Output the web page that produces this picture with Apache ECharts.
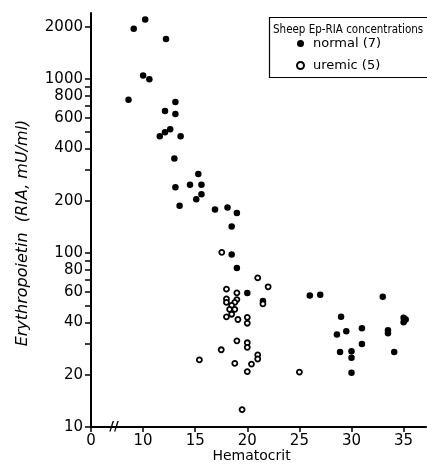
<!DOCTYPE html>
<html><head><meta charset="utf-8">
<script src="https://cdn.jsdelivr.net/npm/echarts@6/dist/echarts.min.js"></script>
<style>html,body{margin:0;padding:0;background:#fff}#c{width:427px;height:464px}</style>
</head><body><div id="c"></div>
<script>
// Sheep Ep-RIA concentrations vs hematocrit
const normalHct = [10.2, 9.1, 12.2, 10.0, 10.6, 8.6, 13.1, 12.1, 13.1, 11.6, 12.1, 12.6, 13.6, 13.0, 15.3, 14.5, 15.6, 13.1, 15.6, 15.1, 13.5, 16.9, 18.1, 19.0, 18.5, 18.5, 19.0, 20.0, 21.5, 26.0, 27.0, 33.0, 29.0, 35.0, 35.2, 35.0, 33.5, 33.5, 31.0, 29.5, 28.6, 31.0, 28.9, 30.0, 30.0, 34.1, 30.0];
const normalEpo = [2200, 1950, 1700, 1050, 1000, 760, 740, 655, 630, 470, 495, 515, 470, 350, 285, 247, 247, 239, 218, 204, 187, 178, 183, 170, 142, 98, 82, 59, 53, 57, 57.5, 56, 43, 42.5, 41.5, 40, 36, 34.6, 37, 35.5, 34, 30, 27, 27.3, 25, 27, 20.5];
const uremicHct = [17.55, 21.0, 22.0, 18.0, 19.0, 18.0, 19.0, 18.0, 18.8, 18.5, 18.3, 18.8, 18.0, 18.5, 19.1, 21.5, 20.0, 20.0, 19.0, 20.0, 20.0, 17.5, 15.4, 21.0, 21.0, 18.8, 20.4, 20.0, 19.5, 25.0];
const uremicEpo = [101, 72, 64, 62, 59, 54.5, 54, 52, 52, 50, 47.5, 47.5, 43, 44.5, 41.5, 51, 42.7, 39.5, 31.3, 30.5, 28.7, 27.8, 24.3, 26, 24.6, 23.2, 23, 20.8, 12.6, 20.7];
const yLabelValues = [10, 20, 40, 60, 80, 100, 200, 400, 600, 800, 1000, 2000];
const yTickValues = [10, 20, 30, 40, 50, 60, 70, 80, 90, 100, 200, 300, 400, 500, 600, 700, 800, 900, 1000, 2000];
const xTickValues = [5, 10, 15, 20, 25, 30, 35]; // first tick sits at the axis break and is labelled 0
const seriesNames = ['normal (7)', 'uremic (5)'];
const legendTitle = 'Sheep Ep-RIA concentrations';
const breakAt = 7.2;

const zip = (a, b) => a.map((v, i) => [v, b[i]]);
const FONT = "'DejaVu Sans', sans-serif";
const chart = echarts.init(document.getElementById('c'), null, {renderer: 'canvas'});
chart.setOption({
  animation: false,
  backgroundColor: '#fff',
  title: {
    text: legendTitle, left: 273, top: 24, padding: 0,
    textStyle: {fontFamily: "'DejaVu Sans Condensed', 'DejaVu Sans', sans-serif", fontSize: 11.5, fontWeight: 'normal', color: '#000'}
  },
  legend: {
    orient: 'vertical', left: 296, top: 37, itemWidth: 7, itemHeight: 7, itemGap: 9, padding: 0,
    textStyle: {fontFamily: FONT, fontSize: 13, color: '#000', padding: [0, 0, 0, 4]},
    data: seriesNames
  },
  grid: {left: 91, top: 13, right: 1, bottom: 37, containLabel: false, outerBoundsMode: 'none'},
  xAxis: {
    type: 'value', min: 5, max: 37.15,
    name: 'Hematocrit', nameLocation: 'middle', nameGap: 22, nameMoveOverlap: false,
    nameTextStyle: {fontFamily: FONT, fontSize: 14, color: '#000', padding: [0, 14, 0, 0]},
    axisLine: {lineStyle: {color: '#000', width: 2}},
    axisTick: {customValues: xTickValues, length: 5, lineStyle: {color: '#000', width: 1.5}},
    axisLabel: {customValues: xTickValues, formatter: v => (v === 5 ? '0' : String(v)), fontFamily: FONT, fontSize: 15, color: '#000', margin: 7},
    splitLine: {show: false}
  },
  yAxis: {
    type: 'log', logBase: 10, min: 10, max: 2400,
    name: 'Erythropoietin  (RIA, mU/ml)', nameLocation: 'middle', nameGap: 60, nameMoveOverlap: false,
    nameTextStyle: {fontFamily: FONT, fontSize: 16, fontStyle: 'italic', color: '#000', padding: [0, 26, 0, 0]},
    axisLine: {lineStyle: {color: '#000', width: 2}},
    axisTick: {customValues: yTickValues, length: 6, lineStyle: {color: '#000', width: 1.5}},
    axisLabel: {customValues: yLabelValues, formatter: v => String(Math.round(v)), fontFamily: FONT, fontSize: 15, color: '#000', margin: 8},
    minorTick: {show: false},
    splitLine: {show: false}
  },
  series: [
    {name: seriesNames[0], type: 'scatter', symbol: 'circle', symbolSize: 6.5,
     itemStyle: {color: '#000', opacity: 1}, data: zip(normalHct, normalEpo)},
    {name: seriesNames[1], type: 'scatter', symbol: 'circle', symbolSize: 5,
     itemStyle: {color: '#fff', borderColor: '#000', borderWidth: 1.8, opacity: 1}, data: zip(uremicHct, uremicEpo)}
  ]
});
const bp = chart.convertToPixel({xAxisIndex: 0, yAxisIndex: 0}, [breakAt, 10]);
chart.setOption({
  graphic: [
    {type: 'rect', shape: {x: 269.5, y: 17.5, width: 170, height: 60}, style: {fill: 'none', stroke: '#000', lineWidth: 1.2}},
    {type: 'text', x: bp[0], y: bp[1], style: {text: '//', fontFamily: FONT, fontSize: 13, fontWeight: 'bold', fill: '#000', align: 'center', verticalAlign: 'middle'}}
  ]
});
</script></body></html>
